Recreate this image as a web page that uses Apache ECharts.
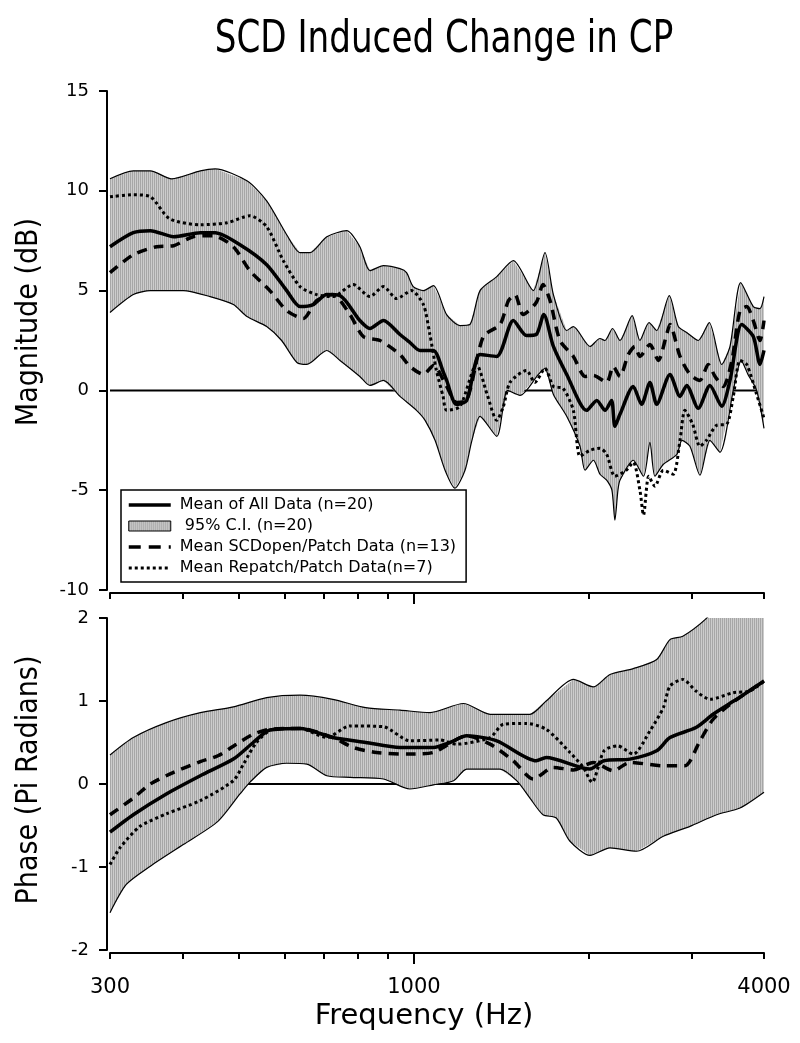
<!DOCTYPE html>
<html><head><meta charset="utf-8">
<script src="https://cdn.jsdelivr.net/npm/echarts@6/dist/echarts.min.js"></script>
<style>html,body{margin:0;padding:0;background:#fff}#c{width:800px;height:1043px}</style>
</head><body><div id="c"></div>
<script>
// ---------- DATA: [frequency Hz, value] ----------
const magUpper = [[300,10.6],[329,11.0],[352,11.0],[383,10.6],[429,11.0],[455,11.1],[516,10.5],[558,9.5],[604,7.8],[637,6.9],[662,6.9],[708,7.7],[766,8.0],[807,7.2],[840,6.0],[886,6.25],[946,6.1],[971,5.9],[997,5.2],[1038,5.0],[1080,5.25],[1138,3.8],[1200,3.25],[1248,3.3],[1299,5.0],[1388,5.7],[1482,6.5],[1604,5.0],[1680,6.9],[1737,4.8],[1831,3.0],[1880,3.2],[2008,2.2],[2089,2.6],[2131,2.5],[2196,3.1],[2261,2.5],[2373,3.75],[2447,2.5],[2537,3.4],[2615,3.0],[2749,4.75],[2849,3.2],[2945,2.9],[3083,2.5],[3220,3.4],[3383,1.3],[3496,2.2],[3647,5.4],[3834,4.2],[3937,4.1],[4000,4.7]];
const magLower = [[300,3.9],[329,4.8],[352,5.0],[401,5.0],[446,4.7],[489,4.3],[516,3.7],[558,3.2],[592,2.5],[629,1.4],[654,1.3],[708,2.0],[746,1.5],[807,0.7],[840,0.25],[886,0.5],[946,-0.3],[1010,-1.0],[1045,-1.5],[1087,-2.5],[1131,-4.0],[1176,-4.9],[1224,-4.0],[1258,-2.5],[1299,-1.3],[1388,-2.3],[1449,0.0],[1522,-0.25],[1637,0.8],[1680,1.1],[1737,-0.2],[1831,-1.3],[1930,-2.8],[1969,-4.0],[2036,-3.5],[2089,-4.2],[2145,-4.5],[2190,-5.0],[2216,-6.5],[2243,-5.0],[2261,-4.5],[2383,-3.5],[2482,-4.3],[2546,-2.6],[2597,-4.3],[2685,-3.7],[2833,-3.2],[2890,-2.5],[2983,-2.8],[3104,-4.25],[3229,-2.5],[3360,-3.1],[3542,0.0],[3654,1.5],[3754,0.8],[3885,0.0],[4000,-1.9]];
const magMean = [[300,7.2],[329,7.9],[352,8.0],[386,7.7],[429,7.9],[455,7.9],[502,7.3],[558,6.3],[604,5.0],[637,4.2],[671,4.3],[708,4.8],[746,4.75],[807,3.5],[840,3.1],[886,3.5],[946,2.8],[984,2.4],[1024,2.0],[1080,2.0],[1124,0.9],[1138,0.5],[1183,-0.7],[1232,-0.5],[1299,1.8],[1388,1.7],[1482,3.5],[1561,2.75],[1623,2.8],[1672,3.8],[1737,2.2],[1831,0.8],[1981,-1.0],[2063,-0.5],[2131,-1.0],[2187,-0.5],[2216,-1.8],[2261,-1.2],[2383,0.2],[2463,-0.7],[2546,0.4],[2615,-0.7],[2756,0.8],[2868,-0.3],[2945,0.25],[3083,-0.9],[3229,0.25],[3383,-0.8],[3496,0.5],[3662,3.3],[3834,2.7],[3937,1.3],[4000,2.0]];
const magSCD = [[300,5.9],[329,6.8],[361,7.2],[386,7.25],[417,7.7],[451,7.75],[489,7.2],[522,6.0],[565,5.0],[604,4.0],[645,3.6],[680,4.5],[725,4.8],[776,3.8],[818,2.7],[874,2.5],[946,1.8],[984,1.2],[1038,0.8],[1080,1.25],[1138,0.2],[1183,-0.6],[1232,-0.5],[1316,2.7],[1406,3.3],[1454,4.5],[1492,4.8],[1541,3.8],[1623,4.4],[1667,5.3],[1714,4.5],[1783,2.5],[1880,1.7],[1969,0.7],[2036,0.75],[2145,0.4],[2201,1.2],[2261,0.7],[2337,1.8],[2398,2.2],[2447,1.7],[2546,2.3],[2632,1.5],[2720,2.8],[2756,3.3],[2868,1.7],[2983,0.8],[3104,0.5],[3207,1.3],[3295,0.7],[3406,0.2],[3522,1.5],[3637,4.0],[3735,4.2],[3834,3.5],[3937,2.5],[4000,3.5]];
const magRepatch = [[300,9.7],[329,9.8],[352,9.7],[380,8.6],[429,8.3],[477,8.4],[522,8.75],[558,8.2],[596,6.5],[637,5.2],[680,4.8],[725,4.7],[786,5.3],[840,4.7],[886,5.2],[934,4.6],[990,5.0],[1038,4.3],[1065,2.8],[1093,1.0],[1122,-0.3],[1138,-1.0],[1200,-0.8],[1281,1.3],[1336,-0.2],[1388,-1.5],[1425,-0.8],[1463,0.4],[1561,1.0],[1614,0.4],[1680,1.1],[1737,0.2],[1805,0.1],[1880,-1.0],[1930,-3.3],[2008,-3.0],[2089,-2.9],[2145,-3.2],[2216,-4.3],[2317,-4.0],[2383,-3.6],[2447,-5.0],[2482,-6.25],[2534,-4.3],[2597,-4.8],[2685,-4.0],[2792,-4.2],[2868,-2.5],[2924,-1.0],[3016,-1.7],[3104,-2.8],[3185,-2.5],[3316,-1.75],[3450,-1.7],[3542,-0.3],[3637,1.5],[3735,1.3],[3885,-0.2],[4000,-1.4]];

const phUpper = [[300,0.35],[329,0.56],[375,0.74],[429,0.86],[489,0.93],[558,1.04],[637,1.07],[725,1.02],[826,0.92],[946,0.89],[1065,0.86],[1216,0.97],[1352,0.84],[1583,0.84],[1688,1.0],[1880,1.26],[2036,1.17],[2173,1.32],[2383,1.39],[2615,1.5],[2756,1.74],[2900,1.78],[3167,1.98],[3496,2.3],[4000,2.6]];
const phLower = [[300,-1.55],[320,-1.21],[352,-0.99],[401,-0.73],[460,-0.45],[502,-0.12],[522,0.02],[558,0.2],[604,0.25],[654,0.24],[708,0.1],[776,0.08],[886,0.06],[984,-0.06],[1080,-0.01],[1170,0.04],[1232,0.18],[1406,0.18],[1502,0.04],[1583,-0.17],[1667,-0.37],[1757,-0.41],[1855,-0.69],[2008,-0.86],[2173,-0.77],[2415,-0.81],[2685,-0.63],[2983,-0.51],[3316,-0.37],[3637,-0.29],[4000,-0.1]];
const phMean = [[300,-0.58],[329,-0.37],[375,-0.12],[429,0.1],[489,0.3],[529,0.5],[565,0.65],[637,0.67],[725,0.56],[826,0.5],[946,0.44],[1080,0.44],[1153,0.5],[1232,0.58],[1388,0.52],[1623,0.28],[1688,0.32],[2008,0.18],[2123,0.28],[2352,0.3],[2615,0.4],[2756,0.56],[3055,0.68],[3270,0.84],[3587,1.02],[4000,1.24]];
const phSCD = [[300,-0.37],[329,-0.17],[352,0.0],[386,0.14],[429,0.27],[460,0.34],[495,0.48],[529,0.6],[565,0.66],[637,0.67],[725,0.56],[786,0.44],[862,0.38],[984,0.36],[1080,0.38],[1232,0.58],[1352,0.48],[1482,0.28],[1604,0.06],[1737,0.2],[1880,0.17],[2036,0.26],[2201,0.16],[2352,0.26],[2685,0.22],[2924,0.22],[3104,0.52],[3270,0.78],[3496,0.96],[4000,1.24]];
const phRepatch = [[300,-0.97],[312,-0.77],[338,-0.51],[375,-0.36],[429,-0.2],[489,0.04],[509,0.24],[536,0.5],[572,0.66],[637,0.67],[708,0.56],[776,0.7],[886,0.69],[984,0.52],[1109,0.53],[1183,0.48],[1352,0.56],[1425,0.72],[1561,0.73],[1688,0.66],[1855,0.38],[1955,0.2],[2024,0.02],[2123,0.4],[2239,0.46],[2383,0.36],[2546,0.64],[2685,0.92],[2756,1.18],[2900,1.26],[3055,1.12],[3229,1.02],[3542,1.1],[3784,1.12],[4000,1.24]];

const zeroRef = [[300,0],[4000,0]];
const xMinorTicks = [300,400,500,600,700,800,900,2000,3000,4000];
const xMajorTicks = [1000];
const xTickLabels = [300,1000,4000];
const names = ['Mean of All Data (n=20)',' 95% C.I. (n=20)','Mean SCDopen/Patch Data (n=13)','Mean Repatch/Patch Data(n=7)'];
const titleText = 'SCD Induced Change in CP';

// ---------- STYLE ----------
const pat = document.createElement('canvas');
pat.width = 2; pat.height = 1;
const pctx = pat.getContext('2d');
pctx.fillStyle = '#a6a6a6'; pctx.fillRect(0,0,1,1);
pctx.fillStyle = '#cccccc'; pctx.fillRect(1,0,1,1);
const bandFill = {image: pat, repeat: 'repeat'};

const FONT = 'DejaVu Sans';
const COND = '"DejaVu Sans Condensed", "DejaVu Sans"';

function xAxes(grid, withLabels) {
  const base = {gridIndex: grid, type: 'log', logBase: 10, min: 300, max: 4000, offset: 3, position: 'bottom',
    splitLine: {show: false}, minorTick: {show: false}, minorSplitLine: {show: false}};
  return [
    Object.assign({}, base, {
      axisLine: {show: true, onZero: false, lineStyle: {color: '#000', width: 2}},
      axisTick: {show: true, inside: false, length: 6, customValues: xMinorTicks, lineStyle: {color: '#000', width: 2}},
      axisLabel: withLabels ? {show: true, customValues: xTickLabels, margin: 24, fontSize: 21, fontFamily: FONT, color: '#000',
        formatter: v => String(Math.round(v))} : {show: false}
    }),
    Object.assign({}, base, {
      axisLine: {show: false, onZero: false},
      axisTick: {show: true, inside: false, length: 11, customValues: xMajorTicks, lineStyle: {color: '#000', width: 2}},
      axisLabel: {show: false}
    })
  ];
}
function yAxis(grid, min, max, interval) {
  return {gridIndex: grid, type: 'value', min, max, interval, offset: 3, position: 'left',
    axisLine: {show: true, onZero: false, lineStyle: {color: '#000', width: 2}},
    axisTick: {show: true, inside: false, length: 8, lineStyle: {color: '#000', width: 2}},
    axisLabel: {fontSize: 18, fontFamily: FONT, color: '#000', margin: 18},
    splitLine: {show: false}};
}

function bandSeries(upper, lower, xi, yi) {
  return {
    type: 'custom', name: names[1], xAxisIndex: xi, yAxisIndex: yi, clip: true, z: 2, silent: true,
    data: [[1000, 0]],
    itemStyle: {color: '#b8b8b8'},
    renderItem: function (params, api) {
      const pts = upper.map(p => api.coord(p)).concat(lower.slice().reverse().map(p => api.coord(p)));
      return {type: 'polygon', shape: {points: pts}, style: {fill: bandFill, stroke: null}};
    }
  };
}
function line(name, data, xi, yi, style, z) {
  return {type: 'line', name, data, xAxisIndex: xi, yAxisIndex: yi, symbol: 'none', smooth: 0.25,
    z: z, silent: true, lineStyle: style, itemStyle: {color: '#000'}};
}
const edge = {color: '#000', width: 1.2, type: 'solid'};
const solid = {color: '#000', width: 3.5, type: 'solid'};
const dashed = {color: '#000', width: 3.5, type: [10, 7], cap: 'butt'};
const dotted = {color: '#000', width: 3, type: [3, 3], cap: 'butt'};
const zeroStyle = {color: '#000', width: 2, type: 'solid'};

function panel(xi, yi, up, lo, mean, scd, rep) {
  return [
    Object.assign(line('zero' + yi, zeroRef, xi, yi, zeroStyle, 1), {smooth: false}),
    bandSeries(up, lo, xi, yi),
    line('upper' + yi, up, xi, yi, edge, 3),
    line('lower' + yi, lo, xi, yi, edge, 3),
    line(names[3], rep, xi, yi, dotted, 4),
    line(names[2], scd, xi, yi, dashed, 4),
    line(names[0], mean, xi, yi, solid, 5)
  ];
}

const hideSym = {opacity: 0};
const chart = echarts.init(document.getElementById('c'));
chart.setOption({
  animation: false,
  backgroundColor: '#fff',
  grid: [
    {left: 110, width: 654, top: 91, height: 499},
    {left: 110, width: 654, top: 618, height: 332}
  ],
  xAxis: xAxes(0, false).concat(xAxes(1, true)),
  yAxis: [yAxis(0, -10, 15, 5), yAxis(1, -2, 2, 1)],
  legend: {
    orient: 'vertical', left: 121, top: 490,
    backgroundColor: '#fff', borderColor: '#000', borderWidth: 1.5,
    padding: [6, 10, 5, 6], itemGap: 3, itemWidth: 42, itemHeight: 10,
    textStyle: {fontSize: 16, fontFamily: FONT, color: '#000', lineHeight: 18, padding: [0, 0, 0, 4]},
    selectedMode: false,
    data: [
      {name: names[0], itemStyle: hideSym, lineStyle: {width: 3.5}},
      {name: names[1], icon: 'rect', itemStyle: {color: bandFill, borderColor: '#000', borderWidth: 1, opacity: 1}},
      {name: names[2], itemStyle: hideSym, lineStyle: {width: 3.5, type: [12, 8]}},
      {name: names[3], itemStyle: hideSym, lineStyle: {width: 3, type: [3, 3]}}
    ]
  },
  graphic: [
    {type: 'text', x: 444, y: 41, scaleY: 1.15, style: {text: titleText, font: '38px ' + COND, fill: '#000', align: 'center', verticalAlign: 'middle', textAlign: 'center', textVerticalAlign: 'middle'}},
    {type: 'text', x: 29, y: 322, rotation: Math.PI / 2, style: {text: 'Magnitude (dB)', font: '30px ' + COND, fill: '#000', align: 'center', verticalAlign: 'middle', textAlign: 'center', textVerticalAlign: 'middle'}},
    {type: 'text', x: 29, y: 780, rotation: Math.PI / 2, style: {text: 'Phase (Pi Radians)', font: '30px ' + COND, fill: '#000', align: 'center', verticalAlign: 'middle', textAlign: 'center', textVerticalAlign: 'middle'}},
    {type: 'text', x: 424, y: 1016, style: {text: 'Frequency (Hz)', font: '29px ' + FONT, fill: '#000', align: 'center', verticalAlign: 'middle', textAlign: 'center', textVerticalAlign: 'middle'}}
  ],
  series: panel(0, 0, magUpper, magLower, magMean, magSCD, magRepatch)
    .concat(panel(2, 1, phUpper, phLower, phMean, phSCD, phRepatch))
});
</script>
</body></html>
